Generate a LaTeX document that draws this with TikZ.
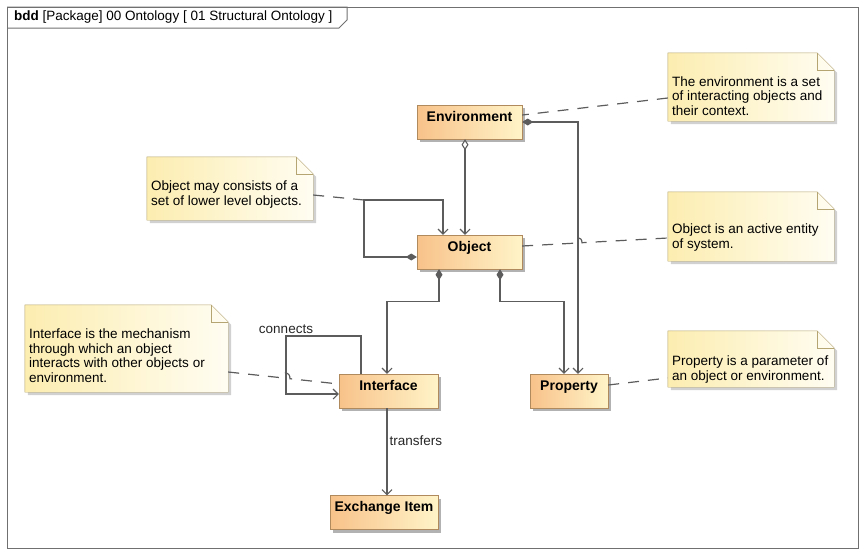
\documentclass[tikz,border=0pt]{standalone}
\usepackage{fontspec}
\setmainfont{Liberation Sans}
\usetikzlibrary{positioning,calc,arrows.meta,fit,shadows}

\definecolor{blockA}{HTML}{F8C28A}
\definecolor{blockB}{HTML}{FFF4C8}
\definecolor{blockline}{HTML}{B08A5C}
\definecolor{noteA}{HTML}{FCEDB0}
\definecolor{noteB}{HTML}{FFFDF2}
\definecolor{noteline}{HTML}{B5A572}
\definecolor{wire}{HTML}{5C5C5C}
\definecolor{framec}{HTML}{707070}

% note: name, x1, y1, x2, y2, text middle y, text
\newcommand{\umlnote}[7]{%
 \node[fit={(#2,#3) (#4,#5)}, inner sep=0pt] (#1) {};
 \fill[black!18] ([shift={(3pt,-3pt)}]#1.north west) -- ([shift={(-14pt,-3pt)}]#1.north east) -- ([shift={(3pt,-20pt)}]#1.north east) -- ([shift={(3pt,-3pt)}]#1.south east) -- ([shift={(3pt,-3pt)}]#1.south west) -- cycle;
 \path[draw=noteline, left color=noteA, right color=noteB] (#1.north west) -- ([xshift=-17pt]#1.north east) -- ([yshift=-17pt]#1.north east) -- (#1.south east) -- (#1.south west) -- cycle;
 \draw[noteline] ([xshift=-17pt]#1.north east) |- ([yshift=-17pt]#1.north east);
 \node[notetext, anchor=west] at (#2+4,#6) {#7};
}

\begin{document}
\begin{tikzpicture}[x=1pt, y=-1pt,
 block/.style={rectangle, draw=blockline, left color=blockA, right color=blockB, font=\fontsize{14}{16}\bfseries\selectfont, minimum height=34, inner ysep=4pt, text height=12pt, text depth=14pt, drop shadow={shadow xshift=3pt, shadow yshift=-3pt, opacity=0.3, fill=black}},
 notetext/.style={font=\fontsize{13.5}{14.5}\selectfont, align=left, inner sep=0pt},
 lbl/.style={font=\fontsize{13.5}{14.5}\selectfont, text=black!85, inner sep=2pt},
 wireline/.style={draw=wire, line width=1.1pt},
 comp/.style={wireline, arrows={Diamond[length=11pt,width=7pt]-Straight Barb[length=5pt,width=10pt]}},
 aggr/.style={wireline, arrows={Diamond[open,length=11pt,width=7pt,fill=white]-Straight Barb[length=5pt,width=10pt]}},
 assoc/.style={wireline, arrows={-Straight Barb[length=5pt,width=10pt]}},
 anchorline/.style={draw=wire, line width=1.2pt, dash pattern=on 11pt off 9pt}]

\useasboundingbox (0,0) rectangle (862,550);

% frame and tab
\draw[framec, line width=1pt] (7,7) rectangle (858,548);
\draw[framec, line width=1pt] (7,7) -- (347,7) -- (347,20) -- (339,28) -- (7,28);
\node[anchor=west, font=\fontsize{13.5}{14.5}\selectfont, inner sep=0pt] (title) at (14,17.5) {\textbf{bdd} [Package] 00 Ontology [ 01 Structural Ontology ]};

% notes
\umlnote{n1}{668}{53}{834}{121}{96}{The environment is a set\\of interacting objects and\\their context.}
\umlnote{n2}{668}{192}{834}{261}{237.5}{Object is an active entity\\of system.}
\umlnote{n3}{668}{331}{834}{387}{369.5}{Property is a parameter of\\an object or environment.}
\umlnote{n4}{147}{157}{313}{220}{194.5}{Object may consists of a\\set of lower level objects.}
\umlnote{n5}{25}{305}{228}{392}{355.5}{Interface is the mechanism\\through which an object\\interacts with other objects or\\environment.}

% blocks
\node[block, minimum width=105] (env) at (469.5,122) {Environment};
\node[block, minimum width=105] (obj) at (469.5,252) {Object};
\node[block, minimum width=99] (intf) at (388.5,391) {Interface};
\node[block, minimum width=108] (item) at (384,512.5) {Exchange Item};
\node[block, minimum width=78] (prop) at (569,391) {Property};

\coordinate (selfc) at (364,200);

% associations
\draw[aggr] ([xshift=-4.5pt]env.south) -- ([xshift=-4.5pt]obj.north);
\draw[comp] (env.east) -| ([xshift=9pt]prop.north);
\draw[comp] ([yshift=-5pt]obj.west) -| (selfc) -| ([xshift=-26.5pt]obj.north);
\draw[comp] ([xshift=-30.5pt]obj.south) -- ++(0,32) -| ([xshift=-1.5pt]intf.north);
\draw[comp] ([xshift=30.5pt]obj.south) -- ++(0,32) -| ([xshift=-5pt]prop.north);
\draw[assoc] ([xshift=-27.5pt]intf.north) |- (286,336) node[lbl, above, pos=1] {connects} |- ([yshift=-3pt]intf.west);
\draw[assoc] ([xshift=-1.5pt]intf.south) -- ([xshift=3pt]item.north) node[lbl, right, pos=0.37] {transfers};

% note anchors
\draw[anchorline] ([yshift=-11pt]n1.west) -- ([yshift=7pt]env.east);
\draw[anchorline] ([yshift=6pt]obj.east) -- (574,243.2) .. controls (574,236) and (582,236) .. (582,242.7) -- ([yshift=-11.5pt]n2.west);
\draw[anchorline] ([yshift=6pt]prop.east) -- ([yshift=-19pt]n3.west);
\draw[anchorline] ([yshift=-6.5pt]n4.east) -- (selfc);
\draw[anchorline] ([yshift=-23.5pt]n5.east) -- (282,377.8) .. controls (282,371) and (290,371) .. (290,378.7) -- ([yshift=7pt]intf.west);
\end{tikzpicture}
\end{document}
